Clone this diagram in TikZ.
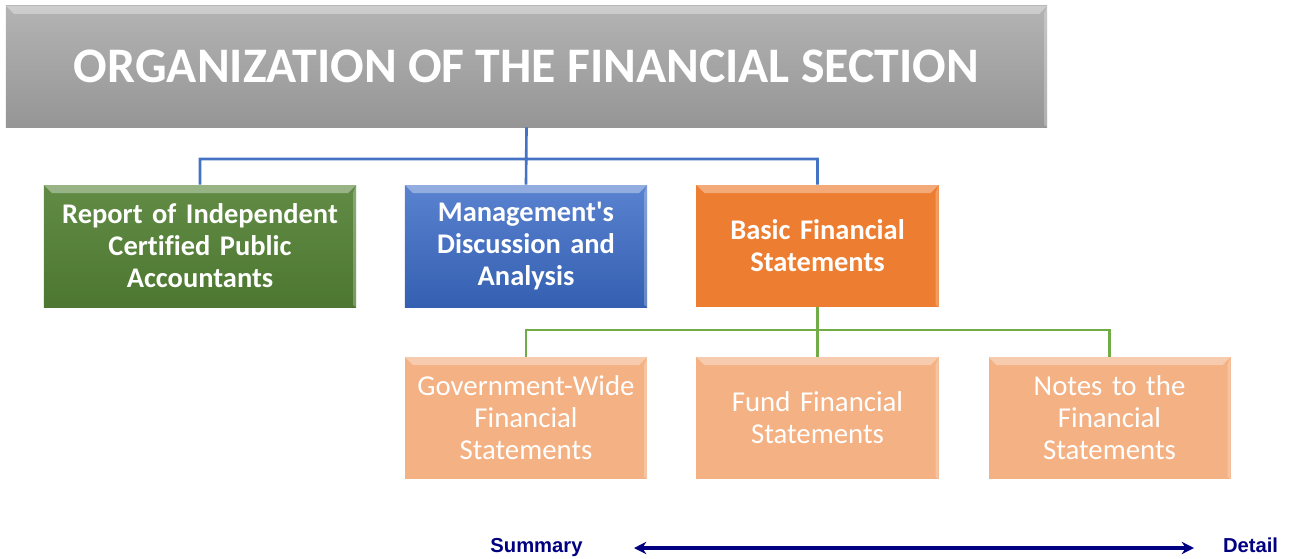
\documentclass[tikz,border=0pt]{standalone}
\usepackage{fontspec}
\usepackage{xcolor}
\setmainfont{Carlito}[Ligatures={NoCommon,TeXOff}]
\newfontfamily\arialfont{Liberation Sans}
\usetikzlibrary{arrows.meta}

\definecolor{titlegray}{HTML}{A6A6A6}
\definecolor{boxgreen}{HTML}{548235}
\definecolor{boxblue}{HTML}{3C6CC8}
\definecolor{boxorange}{HTML}{ED7D31}
\definecolor{boxpeach}{HTML}{F4B183}
\definecolor{lineblue}{HTML}{4472C4}
\definecolor{linegreen}{HTML}{70AD47}
\definecolor{navy}{HTML}{000080}

\tikzset{
  bevel/.style={path picture={
      \fill[white,opacity=.35] (path picture bounding box.north west) -- (path picture bounding box.north east)
        -- ([shift={(-0.16,-0.16)}]path picture bounding box.north east) -- ([shift={(0.16,-0.16)}]path picture bounding box.north west) -- cycle;
      \fill[white,opacity=.25] (path picture bounding box.north east) -- (path picture bounding box.south east)
        -- ([shift={(-0.06,0.04)}]path picture bounding box.south east) -- ([shift={(-0.06,-0.16)}]path picture bounding box.north east) -- cycle;
    }},
  mainbox/.style={rectangle,bevel,minimum width=4.82cm,minimum height=2.44cm,inner sep=2pt,
    text width=4.7cm,align=center,text=white,font=\bfseries\fontsize{16.2}{18.2}\selectfont},
  subbox/.style={mainbox,fill=boxpeach,font=\fontsize{16.4}{18.2}\selectfont},
  link/.style={line width=1.5pt},
  scalelabel/.style={anchor=base,text=navy,font=\arialfont\bfseries\fontsize{11.5}{13}\selectfont}
}

\begin{document}
\begin{tikzpicture}[scale=1]
            \useasboundingbox (0,0) rectangle (25.84,11.16);
            % top
            \node (title) at (10.53,9.83) [rectangle,bevel,minimum width=20.82cm,minimum height=2.42cm,
                top color=titlegray!85!white,bottom color=titlegray!90!black,text=white,
                font=\bfseries\fontsize{28.3}{32}\selectfont] {ORGANIZATION OF THE FINANCIAL SECTION};
            % first row
            \node (report) at (4.00,6.24) [mainbox,minimum width=6.2cm,text width=6.1cm,
                top color=boxgreen!92!white,bottom color=boxgreen!92!black] {Report of Independent\\Certified Public\\Accountants};
            \node (mda) at (10.52,6.24) [mainbox,top color=boxblue!85!white,bottom color=boxblue!88!black] {Management's\\Discussion and\\Analysis};
            \node (basic) at (16.35,6.24) [mainbox,fill=boxorange] {Basic Financial\\Statements};
            % second row
            \node (govwide) at (10.52,2.80) [subbox] {Government-Wide\\Financial\\Statements};
            \node (fund) at (16.35,2.80) [subbox] {Fund Financial\\Statements};
            \node (notes) at (22.19,2.80) [subbox] {Notes to the\\Financial\\Statements};
            % connectors
            \coordinate (j1) at (10.52,7.98);
            \coordinate (j2) at (16.35,4.56);
            \draw[link,lineblue] (title.south) -- (mda.north) (j1) -| (report.north) (j1) -| (basic.north);
            \draw[link,linegreen] (basic.south) -- (fund.north) (j2) -| (govwide.north) (j2) -| (notes.north);
            % scale
            \node (summary) at (10.73,0.12) [scalelabel] {Summary};
            \node (detail) at (25.01,0.12) [scalelabel] {Detail};
            \coordinate (s1) at (12.68,0.20);
            \coordinate (s2) at (23.88,0.20);
            \draw[navy,line width=1.8pt,{Stealth[length=7pt,width=7pt]}-{Stealth[length=7pt,width=7pt]}] (s1) -- (s2);
        \end{tikzpicture}
\end{document}
